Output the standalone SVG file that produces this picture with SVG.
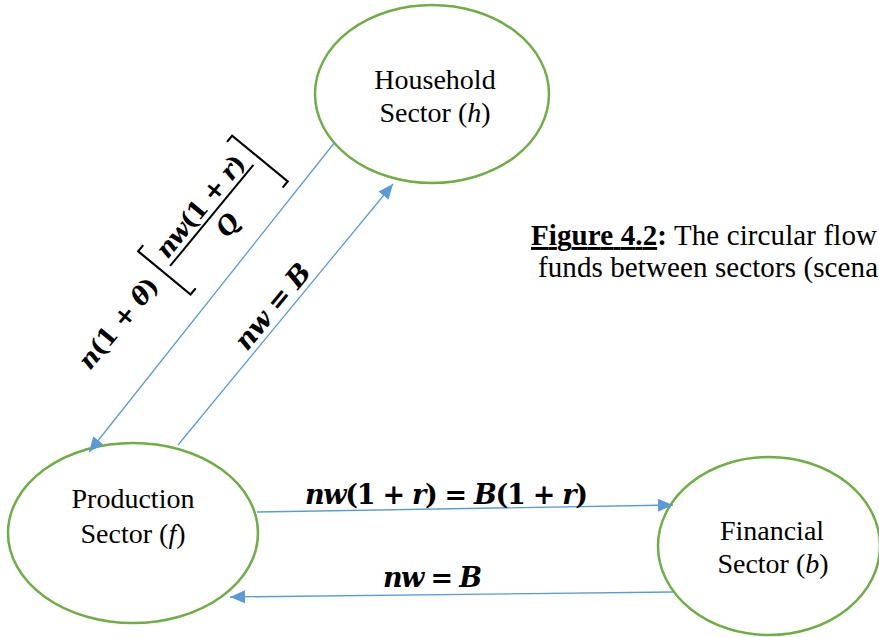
<svg xmlns="http://www.w3.org/2000/svg" width="879" height="637" viewBox="0 0 879 637">
<style>
.node{fill:#fff;stroke:#70AD47;stroke-width:2.5}
.lbl{font-family:"Liberation Serif","Times New Roman",serif;font-size:28px;fill:#000;text-anchor:middle}
.conn{stroke:#5B9BD5;stroke-width:1.3;fill:none}
.m{font-family:"DejaVu Serif","Liberation Serif",serif;font-size:25px;font-weight:bold;fill:#000}
.h{font-size:27px}
.i{font-style:italic}
.br{stroke:#000;stroke-width:2.2;fill:none}
.cap{font-family:"Liberation Serif","Times New Roman",serif;font-size:29px;fill:#000}
</style>
<defs>
<marker id="ah" markerUnits="userSpaceOnUse" markerWidth="15" markerHeight="13" refX="15" refY="6.5" orient="auto">
<path d="M0,0 L15,6.5 L0,13 z" fill="#5B9BD5"/>
</marker>
</defs>
<rect width="879" height="637" fill="#fff"/>

<g id="household">
<ellipse class="node" cx="432" cy="94" rx="117" ry="89"/>
<text class="lbl" x="435" y="89">Household</text>
<text class="lbl" x="435" y="122">Sector (<tspan font-style="italic">h</tspan>)</text>
</g>
<g id="production">
<ellipse class="node" cx="133" cy="533" rx="125" ry="90"/>
<text class="lbl" x="133" y="508">Production</text>
<text class="lbl" x="133" y="543">Sector (<tspan font-style="italic">f</tspan>)</text>
</g>
<g id="financial">
<ellipse class="node" cx="769" cy="546" rx="111" ry="89"/>
<text class="lbl" x="772" y="540">Financial</text>
<text class="lbl" x="773" y="573">Sector (<tspan font-style="italic">b</tspan>)</text>
</g>

<g id="connectors">
<line class="conn" x1="335" y1="142" x2="89" y2="452" marker-end="url(#ah)"/>
<line class="conn" x1="178" y1="445" x2="393" y2="184" marker-end="url(#ah)"/>
<line class="conn" x1="257" y1="512" x2="673" y2="505" marker-end="url(#ah)"/>
<line class="conn" x1="673" y1="592" x2="230" y2="597" marker-end="url(#ah)"/>
</g>

<g id="edge-labels">
<g transform="translate(90,371) rotate(-50.5)">
<text class="m" x="0" y="0" textLength="110" lengthAdjust="spacing"><tspan class="i">n</tspan>(1 + <tspan class="i">θ</tspan>)</text>
<path class="br" d="M131,-39 L123,-39 L123,29 L131,29"/>
<line x1="132" y1="-5" x2="263" y2="-5" stroke="#000" stroke-width="2"/>
<text class="m" x="135" y="-11" textLength="125" lengthAdjust="spacing"><tspan class="i">nw</tspan>(1 + <tspan class="i">r</tspan>)</text>
<text class="m i" x="200" y="22" text-anchor="middle">Q</text>
<path class="br" d="M264,-40 L272,-40 L272,32 L264,32"/>
</g>
<text class="m h" transform="translate(247,352) rotate(-50.5)" textLength="103" lengthAdjust="spacing"><tspan class="i">nw</tspan> = <tspan class="i">B</tspan></text>
<text class="m h" x="305" y="504" textLength="283" lengthAdjust="spacing"><tspan class="i">nw</tspan>(1 + <tspan class="i">r</tspan>) = <tspan class="i">B</tspan>(1 + <tspan class="i">r</tspan>)</text>
<text class="m h" x="383" y="587" textLength="99" lengthAdjust="spacing"><tspan class="i">nw</tspan> = <tspan class="i">B</tspan></text>
</g>

<g id="caption">
<text class="cap" x="531" y="245" textLength="346" lengthAdjust="spacing"><tspan font-weight="bold" text-decoration="underline">Figure 4.2</tspan><tspan font-weight="bold">:</tspan> The circular flow</text>
<text class="cap" x="538" y="277" textLength="340" lengthAdjust="spacing">funds between sectors (scena</text>
</g>
</svg>
